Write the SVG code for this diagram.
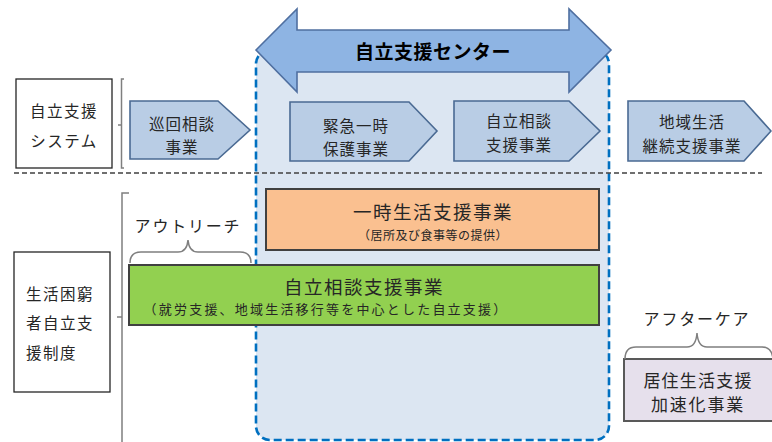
<svg xmlns="http://www.w3.org/2000/svg" width="772" height="442" viewBox="0 0 772 442">
<style>
text{font-family:"Noto Sans CJK JP","Noto Sans",sans-serif;fill:#262626;text-anchor:middle;dominant-baseline:central}
.pent{fill:#b9cde5;stroke:#4a6a93;stroke-width:1.6}
.t15{font-size:15.5px;letter-spacing:1px}
.box{fill:#fff;stroke:#262626;stroke-width:1.3}
.lbl{font-size:15.5px;letter-spacing:1.5px}
.brk{fill:none;stroke:#7f7f7f;stroke-width:1.5}
.bar{stroke:#404040;stroke-width:2}
</style>
<g id="center-area">
<rect x="256" y="50" width="353" height="390" rx="14" fill="#dce6f2" stroke="#0070c0" stroke-width="2.6" stroke-dasharray="8,4"/>
</g>
<g id="center-arrow">
<path d="M256,50 L297,9 L297,30 L569,30 L569,9 L611,50 L569,92 L569,72 L297,72 L297,92 Z" fill="#8eb4e3" stroke="#4f6fa0" stroke-width="1.6"/>
<text x="433" y="50" style="font-size:19px;font-weight:bold;fill:#000;letter-spacing:0.5px">自立支援センター</text>
</g>
<g id="separator">
<line x1="14" y1="173" x2="762" y2="173" stroke="#404040" stroke-width="1.3" stroke-dasharray="5,3"/>
</g>
<g id="system-box">
<rect class="box" x="16" y="79" width="96" height="89"/>
<text class="lbl" x="64" y="110">自立支援</text>
<text class="lbl" x="64" y="140">システム</text>
</g>
<g id="seido-box">
<rect class="box" x="14" y="252" width="96" height="140"/>
<text class="lbl" x="26" y="293" style="text-anchor:start">生活困窮</text>
<text class="lbl" x="26" y="322" style="text-anchor:start">者自立支</text>
<text class="lbl" x="26" y="352" style="text-anchor:start">援制度</text>
</g>
<g id="junkai">
<path class="pent" d="M130,101 L218,101 L250,130 L218,159 L130,159 Z"/>
<text class="t15" x="182" y="123">巡回相談</text>
<text class="t15" x="182" y="146">事業</text>
</g>
<g id="kinkyu">
<path class="pent" d="M290,102 L409,102 L437,131 L409,161 L290,161 Z"/>
<text class="t15" x="356" y="125">緊急一時</text>
<text class="t15" x="356" y="148">保護事業</text>
</g>
<g id="jiritsu-soudan">
<path class="pent" d="M454,101 L569,101 L600,131 L569,161 L454,161 Z"/>
<text class="t15" x="519" y="120">自立相談</text>
<text class="t15" x="519" y="144">支援事業</text>
</g>
<g id="chiiki">
<path class="pent" d="M628,101 L744,101 L771,131 L744,161 L628,161 Z"/>
<text class="t15" x="692" y="121">地域生活</text>
<text class="t15" x="692" y="145">継続支援事業</text>
</g>
<g id="ichiji">
<rect class="bar" x="266" y="189" width="333" height="61" fill="#fac090"/>
<text x="433" y="211" style="font-size:18.5px;letter-spacing:1.5px">一時生活支援事業</text>
<text x="433" y="234" style="font-size:12px;letter-spacing:0.5px">（居所及び食事等の提供）</text>
</g>
<g id="jiritsu-bar">
<rect class="bar" x="129" y="265" width="470" height="60" fill="#92d050"/>
<text x="364" y="286" style="font-size:18.5px;letter-spacing:1.5px">自立相談支援事業</text>
<text x="326" y="308" style="font-size:13px;letter-spacing:2.2px">（就労支援、地域生活移行等を中心とした自立支援）</text>
</g>
<g id="outreach-label">
<text x="188" y="225" style="font-size:16px;letter-spacing:1.8px">アウトリーチ</text>
</g>
<g id="aftercare-label">
<text x="697" y="318" style="font-size:16px;letter-spacing:1.8px">アフターケア</text>
</g>
<g id="kyoju">
<rect x="624" y="359" width="160" height="62" fill="#e6e0ec" stroke="#595959" stroke-width="2"/>
<text x="698" y="379" style="font-size:17px;letter-spacing:1.2px">居住生活支援</text>
<text x="698" y="403" style="font-size:17px;letter-spacing:1.8px">加速化事業</text>
</g>
<g id="connectors">
<path class="brk" d="M124,79 L121.5,79 L121.5,168 L124,168 M121.5,125 L118,125"/>
<path class="brk" d="M129,193 L122,193 L122,442 M122,317 L117,317"/>
<path class="brk" d="M130,263 Q130,252 141,252 L178,252 Q187,252 188,240 Q189,252 198,252 L240,252 Q251,252 251,263"/>
<path class="brk" d="M625,359 Q625,347 636,347 L687,347 Q696,347 697,333 Q698,347 707,347 L762,347 Q772,347 773,359"/>
</g>
</svg>
